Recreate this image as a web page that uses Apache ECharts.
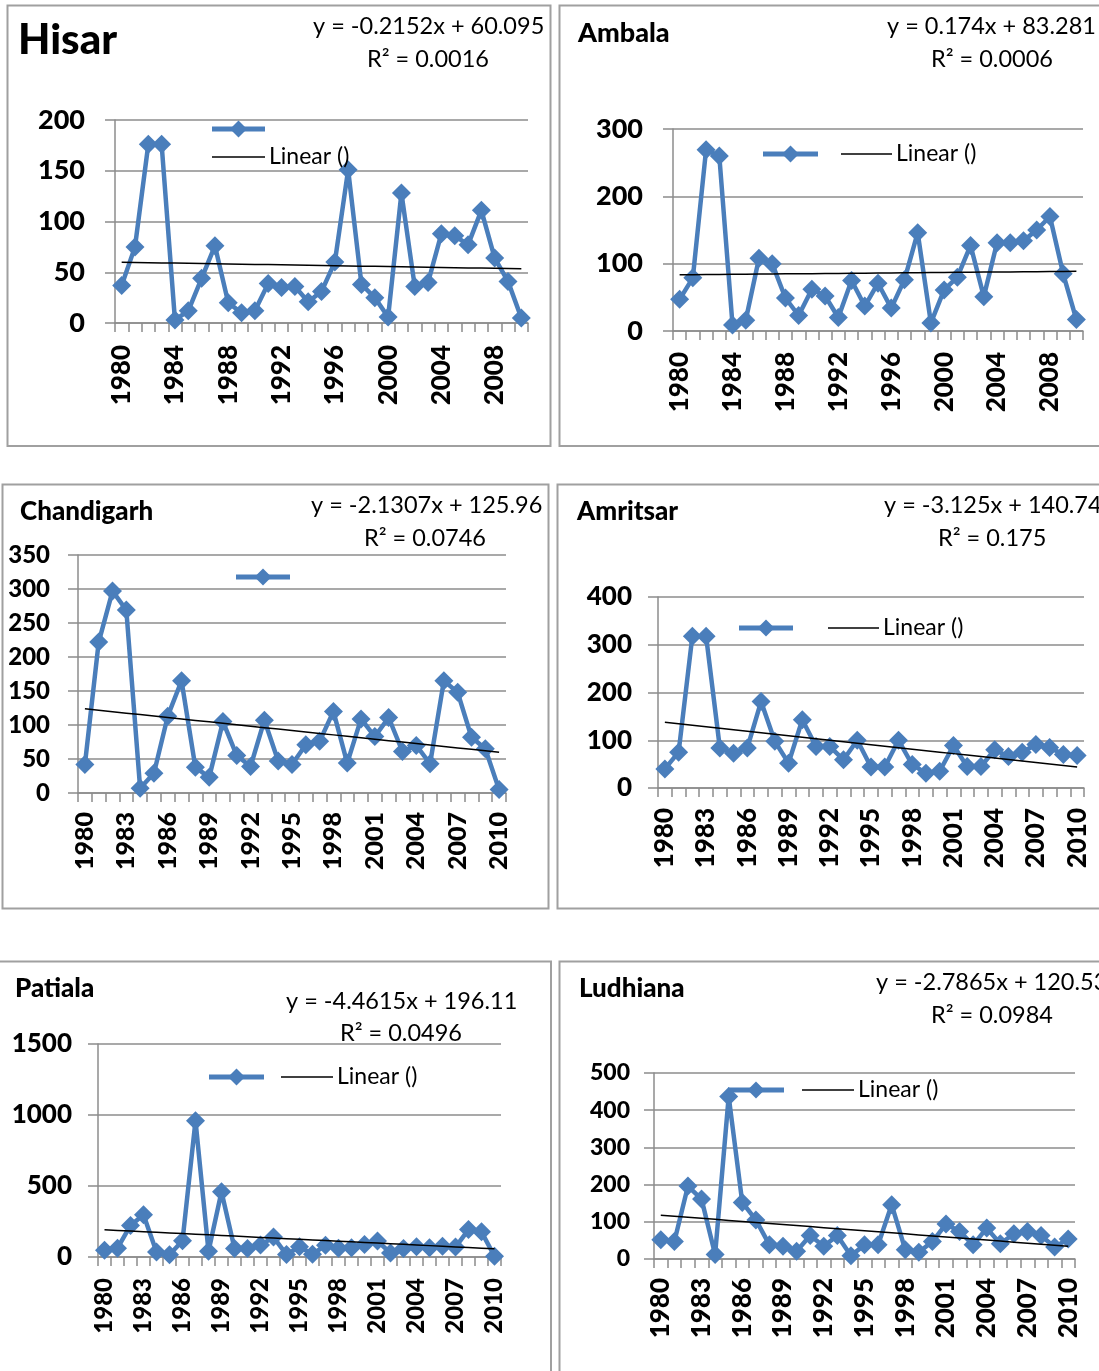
<!DOCTYPE html>
<html>
<head>
<meta charset="utf-8">
<script src="https://cdn.jsdelivr.net/npm/echarts@6/dist/echarts.min.js"></script>
<style>
  html, body { margin: 0; padding: 0; background: #fff; overflow: hidden; }
  #chart { width: 1099px; height: 1371px; }
</style>
</head>
<body>
<div id="chart"></div>
<script>
// Years on every category axis
const years = ['1980','1981','1982','1983','1984','1985','1986','1987','1988','1989',
               '1990','1991','1992','1993','1994','1995','1996','1997','1998','1999',
               '2000','2001','2002','2003','2004','2005','2006','2007','2008','2009','2010'];

// Yearly values per station
const hisar      = [37, 75, 176, 176, 3, 12, 44, 76, 20, 10, 12, 39, 35, 36, 21, 31, 60, 151, 38, 25, 6, 128, 36, 40, 88, 86, 77, 111, 64, 41, 5];
const ambala     = [47, 79, 269, 260, 9, 16, 108, 100, 49, 23, 62, 52, 20, 75, 37, 71, 34, 76, 146, 12, 61, 80, 127, 51, 131, 131, 134, 150, 170, 85, 17];
const chandigarh = [42, 222, 297, 269, 7, 29, 113, 165, 38, 23, 105, 55, 39, 107, 47, 42, 71, 76, 120, 44, 109, 83, 111, 61, 70, 43, 165, 148, 82, 65, 5];
const amritsar   = [40, 75, 318, 318, 84, 73, 84, 181, 98, 52, 143, 87, 87, 59, 100, 44, 44, 100, 49, 31, 35, 89, 45, 45, 80, 66, 75, 91, 85, 70, 68];
const patiala    = [47, 62, 222, 298, 35, 16, 115, 960, 40, 460, 60, 60, 84, 140, 17, 72, 20, 82, 62, 66, 88, 112, 28, 60, 72, 66, 76, 70, 193, 177, 5];
const ludhiana   = [52, 47, 196, 161, 12, 437, 152, 105, 38, 34, 21, 63, 34, 63, 9, 38, 38, 146, 25, 18, 47, 94, 74, 38, 83, 41, 68, 74, 63, 32, 54];

// Linear trend coefficients [slope, intercept] and R² as printed on each panel
const hisarFit      = [-0.2152, 60.095];
const ambalaFit     = [0.174, 83.281];
const chandigarhFit = [-2.1307, 125.96];
const amritsarFit   = [-3.125, 140.74];
const patialaFit    = [-4.4615, 196.11];
const ludhianaFit   = [-2.7865, 120.53];
const rSquared      = ['0.0016', '0.0006', '0.0746', '0.175', '0.0496', '0.0984'];

// Value-axis ranges [max, interval]
const yRanges = [[200, 50], [300, 100], [350, 50], [400, 100], [1500, 500], [500, 100]];

const stationNames = ['Hisar', 'Ambala', 'Chandigarh', 'Amritsar', 'Patiala', 'Ludhiana'];
const stationData  = [hisar, ambala, chandigarh, amritsar, patiala, ludhiana];
const stationFits  = [hisarFit, ambalaFit, chandigarhFit, amritsarFit, patialaFit, ludhianaFit];

const BLUE = '#4A7EBB';
const GRID = '#8C8C8C';
const FRAME = '#A0A0A0';
const FONT = 'Lato, "Open Sans", sans-serif';
const HEAVY = 900;

// Page layout of each panel
const layout = [
  { frame: [7.5, 5.5, 543, 440.5], grid: [115, 120, 413, 203], yFont: 27, xFont: 26, yMargin: 30, xMargin: 22, xInterval: 3,
    title: [18, 40, 42], eq: [313, 26], r2: [367, 59],
    legend: { blue: [212, 265, 129], black: [212, 265, 157] } },
  { frame: [559.5, 5.5, 560, 440.5], grid: [673, 129, 410, 202], yFont: 27, xFont: 26, yMargin: 30, xMargin: 21, xInterval: 3,
    title: [578, 33, 27], eq: [887, 26], r2: [931, 59],
    legend: { blue: [763, 818, 154], black: [841, 892, 154] } },
  { frame: [2.5, 484.5, 546, 424], grid: [78, 555, 428, 238], yFont: 24, xFont: 25, yMargin: 28, xMargin: 19, xInterval: 2,
    title: [20, 512, 26], eq: [311, 505], r2: [364, 538],
    legend: { blue: [236, 290, 577], black: null } },
  { frame: [557.5, 484.5, 560, 424], grid: [658, 597, 426, 191], yFont: 26, xFont: 26, yMargin: 26, xMargin: 20, xInterval: 2,
    title: [577, 512, 26], eq: [884, 505], r2: [938, 538],
    legend: { blue: [739, 793, 628], black: [828, 879, 628] } },
  { frame: [-5, 961.5, 556, 430], grid: [98, 1044, 403, 213], yFont: 26, xFont: 24, yMargin: 26, xMargin: 21, xInterval: 2,
    title: [15, 989, 26], eq: [286, 1001], r2: [340, 1033],
    legend: { blue: [209, 264, 1077], black: [281, 333, 1077] } },
  { frame: [559.5, 961.5, 560, 430], grid: [654, 1073, 421, 186], yFont: 23, xFont: 26, yMargin: 24, xMargin: 19, xInterval: 2,
    title: [579, 989, 26], eq: [876, 982], r2: [931, 1015],
    legend: { blue: [728, 784, 1090], black: [802, 854, 1090] } }
];

function fmtEq(fit) {
  return 'y = ' + fit[0] + 'x + ' + fit[1];
}

const grids = [], xAxes = [], yAxes = [], series = [], graphics = [];

layout.forEach((p, i) => {
  grids.push({ left: p.grid[0], top: p.grid[1], width: p.grid[2], height: p.grid[3] });

  xAxes.push({
    type: 'category', gridIndex: i, data: years, boundaryGap: true,
    axisLine: { show: true, lineStyle: { color: GRID, width: 1.5 } },
    axisTick: { show: true, interval: 0, length: 9, lineStyle: { color: GRID, width: 1.5 } },
    axisLabel: { interval: p.xInterval, rotate: 90, margin: p.xMargin, color: '#000',
                 fontWeight: HEAVY, fontSize: p.xFont, fontFamily: FONT },
    splitLine: { show: false }
  });

  yAxes.push({
    type: 'value', gridIndex: i, min: 0, max: yRanges[i][0], interval: yRanges[i][1],
    axisLine: { show: true, lineStyle: { color: GRID, width: 1.5 } },
    axisTick: { show: true, length: 10, lineStyle: { color: GRID, width: 1.5 } },
    axisLabel: { margin: p.yMargin, color: '#000', fontWeight: HEAVY, fontSize: p.yFont, fontFamily: FONT,
                 formatter: v => String(v) },
    splitLine: { show: true, lineStyle: { color: GRID, width: 1.5 } }
  });

  series.push({
    type: 'line', xAxisIndex: i, yAxisIndex: i, data: stationData[i],
    symbol: 'diamond', symbolSize: 19, showSymbol: true, showAllSymbol: true,
    lineStyle: { color: BLUE, width: 4.5 },
    itemStyle: { color: BLUE },
    z: 2, silent: true
  });

  // Trend line from the printed regression (x = 1 for the first year)
  const fit = stationFits[i];
  series.push({
    type: 'line', xAxisIndex: i, yAxisIndex: i,
    data: years.map((_, k) => fit[0] * (k + 1) + fit[1]),
    symbol: 'none', lineStyle: { color: '#000', width: 1.5 },
    z: 4, silent: true
  });

  // Panel frame
  graphics.push({ type: 'rect', shape: { x: p.frame[0], y: p.frame[1], width: p.frame[2], height: p.frame[3] },
                  style: { fill: 'none', stroke: FRAME, lineWidth: 2 }, z: 0 });

  // Station name, equation and R²
  graphics.push({ type: 'text', x: p.title[0], y: p.title[1], z: 10,
                  style: { text: stationNames[i], fill: '#000', verticalAlign: 'middle', align: 'left',
                           font: HEAVY + ' ' + p.title[2] + 'px ' + FONT } });
  graphics.push({ type: 'text', x: p.eq[0], y: p.eq[1], z: 10,
                  style: { text: fmtEq(fit), fill: '#000', verticalAlign: 'middle', align: 'left',
                           font: '23.5px ' + FONT } });
  graphics.push({ type: 'text', x: p.r2[0], y: p.r2[1], z: 10,
                  style: { text: 'R² = ' + rSquared[i], fill: '#000', verticalAlign: 'middle', align: 'left',
                           font: '23.5px ' + FONT } });

  // Legend keys
  const lb = p.legend.blue;
  const cx = (lb[0] + lb[1]) / 2, cy = lb[2];
  graphics.push({ type: 'line', z: 10, shape: { x1: lb[0], y1: cy, x2: lb[1], y2: cy },
                  style: { stroke: BLUE, lineWidth: 5 } });
  graphics.push({ type: 'polygon', z: 11, shape: { points: [[cx, cy - 8.5], [cx + 8.5, cy], [cx, cy + 8.5], [cx - 8.5, cy]] },
                  style: { fill: BLUE } });
  const lk = p.legend.black;
  if (lk) {
    graphics.push({ type: 'line', z: 10, shape: { x1: lk[0], y1: lk[2], x2: lk[1], y2: lk[2] },
                    style: { stroke: '#000', lineWidth: 1.5 } });
    graphics.push({ type: 'text', x: lk[1] + 4, y: lk[2], z: 10,
                    style: { text: 'Linear ()', fill: '#000', verticalAlign: 'middle', align: 'left',
                             font: '23px ' + FONT } });
  }
});

const chart = echarts.init(document.getElementById('chart'), null, { renderer: 'canvas' });
chart.setOption({
  animation: false,
  backgroundColor: '#fff',
  textStyle: { fontFamily: FONT },
  grid: grids,
  xAxis: xAxes,
  yAxis: yAxes,
  series: series,
  graphic: graphics
});
</script>
</body>
</html>
